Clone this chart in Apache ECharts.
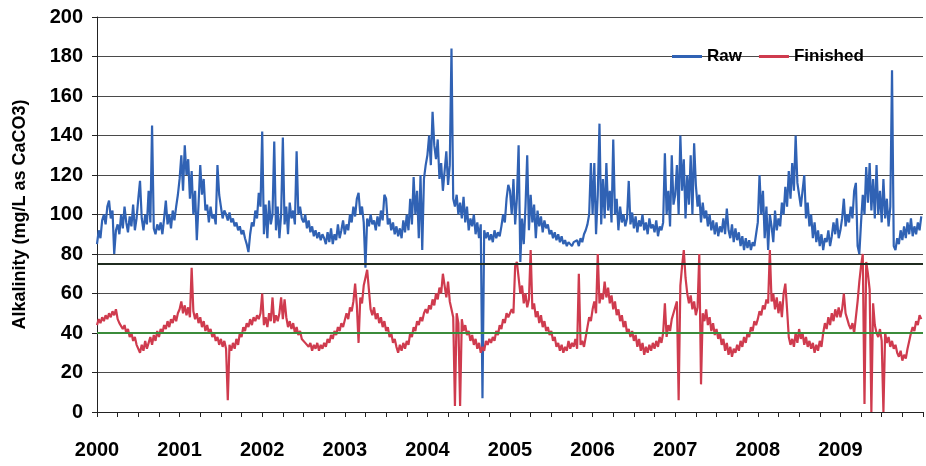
<!DOCTYPE html>
<html>
<head>
<meta charset="utf-8">
<script src="https://cdn.jsdelivr.net/npm/echarts/dist/echarts.min.js"></script>
<style>
html,body{margin:0;padding:0;background:#fff;}
#chart{width:926px;height:466px;}
</style>
</head>
<body>
<div id="chart"></div>
<script>
// Readings are ~weekly (48 per year), index j -> year + j/48
const POINTS_PER_YEAR = 48;
const startYear = 2000;

// Raw water alkalinity (mg/L as CaCO3)
const raw2000 = [85,92,88,97,100,95,104,107,98,102,80,92, 95,90,100,93,104,96,91,99,94,105,92,98, 108,117,98,92,100,95,112,96,145,93,90,95, 92,96,90,98,107,95,100,93,102,97,104,110];
const raw2001 = [118,130,112,135,120,128,108,122,100,112,87,105, 125,110,118,102,105,96,104,98,100,95,125,110, 104,98,102,100,97,101,96,98,94,96,92,94, 90,92,88,85,81,90,96,94,102,98,111,104];
const raw2002 = [142,90,105,88,107,95,100,137,92,104,88,100, 139,95,104,90,106,98,102,95,132,100,104,98, 96,100,93,97,91,94,89,92,88,91,87,90, 88,85,91,86,93,85,90,87,95,88,92,97];
const raw2003 = [90,95,92,100,96,104,99,108,111,100,104,96, 73,98,94,100,95,97,92,99,94,102,97,110, 108,95,98,92,96,90,94,89,93,88,97,91, 100,92,108,95,119,100,112,88,120,82,118,125];
const raw2004 = [130,140,125,152,135,128,138,118,126,112,122,132, 115,125,184,108,104,110,100,106,98,109,96,104, 92,98,94,100,90,96,88,95,7,92,88,91, 87,90,86,92,88,91,89,94,100,96,108,115];
const raw2005 = [112,100,118,95,108,135,76,98,85,104,130,92, 110,96,105,88,102,94,99,91,97,93,95,90, 92,88,91,87,90,86,89,85,87,84,86,85, 84,86,85,87,84,88,86,90,92,95,100,126];
const raw2006 = [100,126,90,110,146,95,118,98,126,102,112,96, 138,100,108,92,104,96,100,94,98,117,95,101, 93,99,91,97,94,100,92,96,90,98,93,95, 91,97,89,94,92,96,131,100,112,94,130,105];
const raw2007 = [110,125,100,140,112,128,98,120,105,130,100,136, 115,104,110,96,106,98,102,94,100,92,97,90, 96,89,94,91,98,90,103,92,88,95,86,93, 87,91,84,89,82,88,83,87,82,86,84,90];
const raw2008 = [96,120,100,112,88,104,82,100,94,86,102,92, 98,94,106,100,114,104,122,108,126,112,140,116, 110,104,112,120,98,106,94,100,88,96,86,92, 84,90,82,88,86,92,84,89,96,90,98,88];
const raw2009 = [92,98,108,94,100,96,104,98,112,116,84,80, 96,110,100,124,106,126,102,118,98,125,100,112, 96,118,98,108,94,104,173,84,82,88,85,92, 87,94,88,96,90,98,89,94,90,96,92,99];

// Finished water alkalinity (mg/L as CaCO3)
const fin2000 = [44,47,45,48,46,49,47,50,48,51,49,52, 47,45,46,42,44,40,42,38,40,36,38,34, 33,30,34,31,36,32,35,38,34,39,36,41, 38,42,40,44,42,46,43,47,45,49,46,50];
const fin2001 = [52,56,50,54,49,53,48,73,51,47,50,45, 48,43,46,41,44,40,42,38,40,36,38,34, 37,33,36,32,6,34,31,35,32,37,34,40, 38,43,41,45,43,47,44,48,46,49,47,50];
const fin2002 = [60,44,48,43,50,46,58,45,49,46,50,58, 47,57,48,43,46,42,45,40,43,39,41,37, 38,35,36,33,35,31,34,32,35,31,34,32, 35,33,37,35,39,37,41,39,43,41,45,43];
const fin2003 = [44,50,47,53,51,56,65,54,35,58,55,64, 68,72,62,52,49,53,47,50,45,48,43,46, 41,43,38,40,35,37,33,30,34,31,35,32, 36,34,40,38,43,41,46,44,48,46,50,52];
const fin2004 = [50,54,52,57,54,60,57,63,60,70,64,58, 66,56,52,48,3,50,45,3,47,41,44,39, 41,36,39,34,37,32,35,30,33,31,36,34, 37,35,38,36,41,39,44,42,47,45,50,48];
const fin2005 = [48,52,50,74,76,68,60,64,55,60,53,57, 82,52,55,48,51,45,49,43,46,41,43,39, 41,36,38,33,35,31,34,30,33,31,36,32, 35,33,37,32,70,34,36,33,38,43,48,46];
const fin2006 = [52,56,50,80,55,60,57,66,58,63,55,59, 52,56,49,52,46,49,43,46,40,42,38,41, 36,39,33,37,31,35,29,33,30,34,31,35, 32,36,33,38,35,40,55,38,44,41,47,50];
const fin2007 = [50,56,6,64,74,82,68,60,55,59,52,56, 49,53,80,14,50,46,52,44,48,41,45,39, 42,37,40,34,37,31,35,29,33,28,32,30, 34,31,36,33,38,35,40,38,43,41,46,44];
const fin2008 = [47,51,49,54,52,57,55,82,56,60,52,58, 50,56,48,60,65,52,38,34,37,33,40,35, 42,37,40,34,38,33,36,32,35,30,34,31, 36,33,40,45,42,48,44,50,46,52,48,53];
const fin2009 = [48,52,60,50,47,44,42,45,40,48,56,66, 74,80,4,76,70,62,0,55,44,40,38,42, 36,0,40,35,38,33,36,32,34,30,28,31, 26,29,27,32,36,40,43,41,46,44,49,47];

const rawYears = [raw2000,raw2001,raw2002,raw2003,raw2004,raw2005,raw2006,raw2007,raw2008,raw2009];
const finYears = [fin2000,fin2001,fin2002,fin2003,fin2004,fin2005,fin2006,fin2007,fin2008,fin2009];

// Reference levels
const upperRef = 75;
const lowerRef = 40;

function toPairs(years) {
  const out = [];
  years.forEach((arr, k) => {
    arr.forEach((v, j) => out.push([startYear + k + j / POINTS_PER_YEAR, v]));
  });
  return out;
}

const chart = echarts.init(document.getElementById('chart'));
const font = 'Liberation Sans';
chart.setOption({
  animation: false,
  backgroundColor: '#ffffff',
  textStyle: { fontFamily: font },
  grid: { left: 97, right: 0, top: 17, bottom: 54 },
  legend: {
    data: ['Raw', 'Finished'],
    left: 667, top: 43,
    icon: 'rect', itemWidth: 30, itemHeight: 3, itemGap: 17,
    textStyle: { fontSize: 17, fontWeight: 'bold', color: '#000', fontFamily: font }
  },
  xAxis: {
    type: 'value', min: 2000, max: 2010, interval: 0.25,
    axisLine: { lineStyle: { color: '#222', width: 1 } },
    axisTick: { show: true, length: 5, lineStyle: { color: '#222' } },
    splitLine: { show: false },
    axisLabel: {
      fontSize: 20, fontWeight: 'bold', color: '#000', margin: 28, fontFamily: font,
      formatter: v => (Math.abs(v - Math.round(v)) < 1e-6 && v < 2010) ? String(Math.round(v)) : ''
    }
  },
  yAxis: {
    type: 'value', min: 0, max: 200, interval: 20,
    name: 'Alkalinity (mg/L as CaCO3)', nameLocation: 'middle', nameGap: 68,
    nameTextStyle: { fontSize: 18, fontWeight: 'bold', color: '#000', fontFamily: font },
    axisLine: { show: true, lineStyle: { color: '#222', width: 1 } },
    axisTick: { show: true, length: 5, lineStyle: { color: '#222' } },
    axisLabel: { fontSize: 20, fontWeight: 'bold', color: '#000', margin: 14, fontFamily: font },
    splitLine: { show: true, lineStyle: { color: '#4a4a4a', width: 1 } }
  },
  series: [
    {
      name: 'refs', type: 'line', data: [], z: 1, silent: true,
      markLine: {
        silent: true, symbol: 'none', label: { show: false }, animation: false,
        data: [
          { yAxis: upperRef, lineStyle: { color: '#1f2b1f', width: 2, type: 'solid' } },
          { yAxis: lowerRef, lineStyle: { color: '#3b8c3b', width: 2, type: 'solid' } }
        ]
      }
    },
    {
      name: 'Raw', type: 'line', data: toPairs(rawYears), z: 2,
      showSymbol: false, symbol: 'none', sampling: null,
      itemStyle: { color: '#3062b4' },
      lineStyle: { color: '#3062b4', width: 2.2 }
    },
    {
      name: 'Finished', type: 'line', data: toPairs(finYears), z: 3,
      showSymbol: false, symbol: 'none', sampling: null,
      itemStyle: { color: '#cf3b4e' },
      lineStyle: { color: '#cf3b4e', width: 2.2 }
    }
  ]
});
</script>
</body>
</html>
